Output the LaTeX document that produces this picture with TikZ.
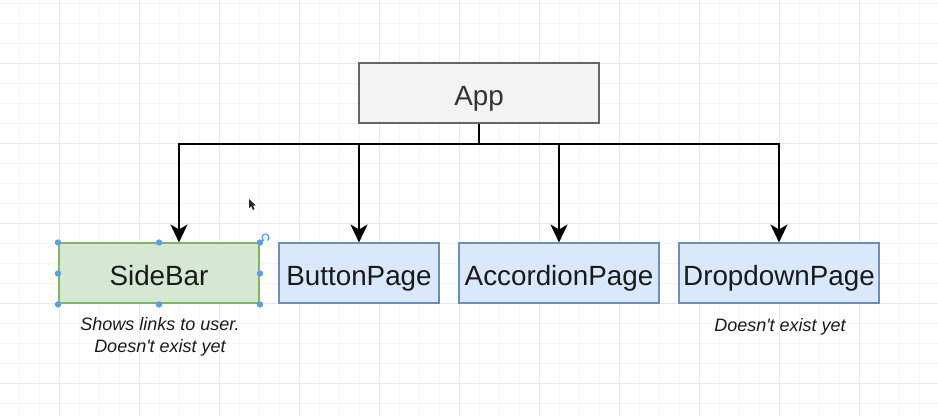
\documentclass[tikz,border=0pt]{standalone}
\usepackage{fontspec}
\setmainfont{Liberation Sans}
\usetikzlibrary{arrows.meta}
\definecolor{gridminor}{HTML}{F5F5F5}
\definecolor{gridmajor}{HTML}{E9E9E9}
\definecolor{appfill}{HTML}{F3F3F3}
\definecolor{appdraw}{HTML}{666666}
\definecolor{greenfill}{HTML}{D5E8D4}
\definecolor{greendraw}{HTML}{82B366}
\definecolor{bluefill}{HTML}{DAE8FC}
\definecolor{bluedraw}{HTML}{6C8EBF}
\definecolor{handle}{HTML}{5B9DE8}
\definecolor{boxtext}{HTML}{1A1A1A}
\begin{document}
\begin{tikzpicture}[x=0.5pt,y=-0.5pt,
  boxbase/.style={rectangle, inner sep=0pt, minimum height=30pt, line width=1pt,
    text height=11.6pt, text depth=0pt,
    font=\fontsize{13.9}{16}\selectfont, text=boxtext},
  appbox/.style={boxbase, fill=appfill, draw=appdraw, minimum width=120pt, text=black!80},
  greenbox/.style={boxbase, fill=greenfill, draw=greendraw, minimum width=100pt},
  bluebox/.style={boxbase, fill=bluefill, draw=bluedraw},
  note/.style={font=\fontsize{9}{10.2}\selectfont\itshape, text=boxtext, align=center, inner sep=0pt},
  edge/.style={line width=1pt, black, -{Stealth[length=9pt,width=8.5pt,inset=2.5pt]}},
  handledot/.style={circle, fill=handle, inner sep=0pt, minimum size=3.2pt}
]
\useasboundingbox (0,0) rectangle (938,416);
\fill[white] (0,0) rectangle (938,416);
% grid
\foreach \i in {0,...,46} \draw[gridminor, line width=0.5pt] ({19.5+20*\i},0) -- ({19.5+20*\i},416);
\foreach \i in {0,...,20} \draw[gridminor, line width=0.5pt] (0,{3.3+20*\i}) -- (938,{3.3+20*\i});
\foreach \i in {0,...,11} \draw[gridmajor, line width=0.5pt] ({59.5+80*\i},0) -- ({59.5+80*\i},416);
\foreach \i in {0,...,4} \draw[gridmajor, line width=0.5pt] (0,{63.3+80*\i}) -- (938,{63.3+80*\i});

% nodes
\node[appbox] (app) at (479,93.5) {App};
\node[greenbox] (sb) at (159,273.5) {SideBar};
\node[bluebox, minimum width=80pt] (bp) at (359,273.5) {ButtonPage};
\node[bluebox, minimum width=100pt] (ap) at (559,273.5) {AccordionPage};
\node[bluebox, minimum width=100pt] (dp) at (779,273.5) {DropdownPage};

% notes
\node[note] (sbnote) at (160,337) {Shows links to user.\\[1pt]Doesn\textquotesingle t exist yet};
\node[note] (dpnote) at (780,327) {Doesn\textquotesingle t exist yet};

% edges
\draw[edge] (app.south) -- ++(0,20) -| ([xshift=10pt]sb.north);
\draw[edge] (app.south) -- ++(0,20) -| (bp.north);
\draw[edge] (app.south) -- ++(0,20) -| (ap.north);
\draw[edge] (app.south) -- ++(0,20) -| (dp.north);

% selection handles on SideBar
\foreach \a in {north west,north,north east,east,south east,south,south west,west}
  \node[handledot] at (sb.\a) {};
\coordinate (rot) at (265.5,237.5);
\draw[handle, line width=0.6pt, -{Stealth[length=1.6pt,width=1.8pt]}] ([shift={(60:3.5)}]rot) arc[start angle=60, end angle=-250, radius=3.5];

% mouse cursor
\fill[black!85] (249,199) -- (249,208.5) -- (251.2,206.3) -- (253,210) -- (254.6,209.2) -- (252.8,205.6) -- (255.8,205.4) -- cycle;
\end{tikzpicture}
\end{document}
